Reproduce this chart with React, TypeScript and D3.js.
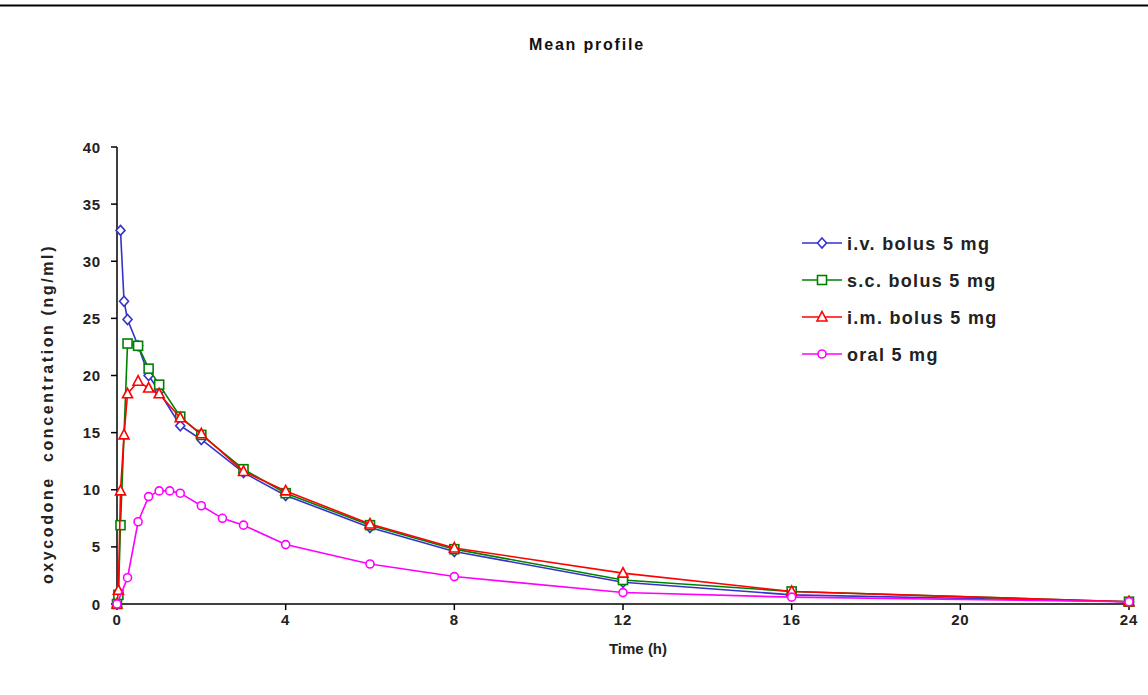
import React from "react";
import * as d3 from "d3";

const W = 1148;
const H = 695;

const ivTime = [0.083, 0.167, 0.25, 0.5, 0.75, 1, 1.5, 2, 3, 4, 6, 8, 12, 16, 24];
const ivConc = [32.7, 26.5, 24.9, 22.6, 20.0, 18.6, 15.6, 14.4, 11.5, 9.5, 6.7, 4.6, 1.9, 0.8, 0.2];

const scTime = [0, 0.033, 0.083, 0.25, 0.5, 0.75, 1, 1.5, 2, 3, 4, 6, 8, 12, 16, 24];
const scConc = [0, 0.8, 6.9, 22.8, 22.6, 20.6, 19.2, 16.4, 14.8, 11.8, 9.7, 6.9, 4.8, 2.1, 1.1, 0.2];

const imTime = [0, 0.033, 0.083, 0.167, 0.25, 0.5, 0.75, 1, 1.5, 2, 3, 4, 6, 8, 12, 16, 24];
const imConc = [0, 1.2, 9.9, 14.8, 18.4, 19.5, 18.9, 18.4, 16.3, 14.9, 11.6, 9.9, 7.0, 4.9, 2.7, 1.1, 0.2];

const oralTime = [0, 0.25, 0.5, 0.75, 1, 1.25, 1.5, 2, 2.5, 3, 4, 6, 8, 12, 16, 24];
const oralConc = [0, 2.3, 7.2, 9.4, 9.9, 9.9, 9.7, 8.6, 7.5, 6.9, 5.2, 3.5, 2.4, 1.0, 0.6, 0.2];

const seriesNames = ["i.v. bolus 5 mg", "s.c. bolus 5 mg", "i.m. bolus 5 mg", "oral 5 mg"];
const seriesColors = ["#3333CC", "#008000", "#FF0000", "#FF00FF"];
const seriesMarkers = ["diamond", "square", "triangle", "circle"];

const xTicks = [0, 4, 8, 12, 16, 20, 24];
const yTicks = [0, 5, 10, 15, 20, 25, 30, 35, 40];

const title = "Mean profile";
const xTitle = "Time (h)";
const yTitle = "oxycodone  concentration (ng/ml)";

const FONT = "'Liberation Sans', Arial, sans-serif";

function Marker({ type, x, y, color }: { type: string; x: number; y: number; color: string }) {
  const s = 4.5;
  const common = { fill: "white", stroke: color, strokeWidth: 1.6 };
  if (type === "diamond") {
    return <path d={`M${x},${y - s - 0.5}L${x + s},${y}L${x},${y + s + 0.5}L${x - s},${y}Z`} {...common} />;
  }
  if (type === "square") {
    return <rect x={x - s} y={y - s} width={2 * s} height={2 * s} {...common} />;
  }
  if (type === "triangle") {
    return <path d={`M${x},${y - s - 1}L${x + s + 0.5},${y + s - 0.5}L${x - s - 0.5},${y + s - 0.5}Z`} {...common} />;
  }
  return <circle cx={x} cy={y} r={s - 0.5} {...common} />;
}

export default function App() {
  const left = 117;
  const right = 1129;
  const top = 147;
  const bottom = 604;

  const x = d3.scaleLinear().domain([0, 24]).range([left, right]);
  const y = d3.scaleLinear().domain([0, 40]).range([bottom, top]);

  const series = [
    { t: ivTime, c: ivConc },
    { t: scTime, c: scConc },
    { t: imTime, c: imConc },
    { t: oralTime, c: oralConc },
  ];

  const line = d3
    .line<[number, number]>()
    .x((d) => x(d[0]))
    .y((d) => y(d[1]));

  const legendX = 802;
  const legendY0 = 243;
  const legendDy = 37;

  return (
    <svg
      width={W}
      height={H}
      style={{ position: "absolute", left: 0, top: 0, display: "block", background: "white" }}
      fontFamily={FONT}
    >
      <rect x={0} y={0} width={W} height={H} fill="white" />
      <line x1={0} x2={W} y1={5.5} y2={5.5} stroke="#000" strokeWidth={2} />
      <text x={587} y={50} textAnchor="middle" fontSize={16} fontWeight="bold" fill="#111" letterSpacing={1.8}>
        {title}
      </text>

      {/* axes */}
      <line x1={left} x2={left} y1={top} y2={bottom} stroke="#000" strokeWidth={1.5} />
      <line x1={left} x2={right} y1={bottom} y2={bottom} stroke="#000" strokeWidth={1.5} />
      {yTicks.map((t) => (
        <g key={"y" + t}>
          <line x1={left - 6} x2={left} y1={y(t)} y2={y(t)} stroke="#000" strokeWidth={1.5} />
          <text x={left - 16} y={y(t) + 5.5} textAnchor="end" fontSize={15} fontWeight="bold" fill="#222" letterSpacing={0.8}>
            {t}
          </text>
        </g>
      ))}
      {xTicks.map((t) => (
        <g key={"x" + t}>
          <line x1={x(t)} x2={x(t)} y1={bottom} y2={bottom + 6} stroke="#000" strokeWidth={1.5} />
          <text x={x(t)} y={bottom + 21} textAnchor="middle" fontSize={15} fontWeight="bold" fill="#222" letterSpacing={0.8}>
            {t}
          </text>
        </g>
      ))}
      <text x={638} y={654} textAnchor="middle" fontSize={15} fontWeight="bold" fill="#222">
        {xTitle}
      </text>
      <text
        transform={`translate(53, 414) rotate(-90)`}
        textAnchor="middle"
        fontSize={16}
        fontWeight="bold"
        fill="#222"
        letterSpacing={2.6}
        style={{ whiteSpace: "pre" }}
      >
        {yTitle}
      </text>

      {/* series */}
      {series.map((s, i) => {
        const pts: [number, number][] = s.t.map((t, j) => [t, s.c[j]]);
        return (
          <g key={"s" + i}>
            <path d={line(pts) || ""} fill="none" stroke={seriesColors[i]} strokeWidth={1.6} />
            {pts.map((p, j) => (
              <Marker key={j} type={seriesMarkers[i]} x={x(p[0])} y={y(p[1])} color={seriesColors[i]} />
            ))}
          </g>
        );
      })}

      {/* legend */}
      {seriesNames.map((n, i) => {
        const ly = legendY0 + i * legendDy;
        return (
          <g key={"l" + i}>
            <line x1={legendX} x2={legendX + 40} y1={ly} y2={ly} stroke={seriesColors[i]} strokeWidth={1.6} />
            <Marker type={seriesMarkers[i]} x={legendX + 20} y={ly} color={seriesColors[i]} />
            <text x={legendX + 45} y={ly + 6.5} fontSize={18} fontWeight="bold" fill="#222" letterSpacing={1.3}>
              {n}
            </text>
          </g>
        );
      })}
    </svg>
  );
}
